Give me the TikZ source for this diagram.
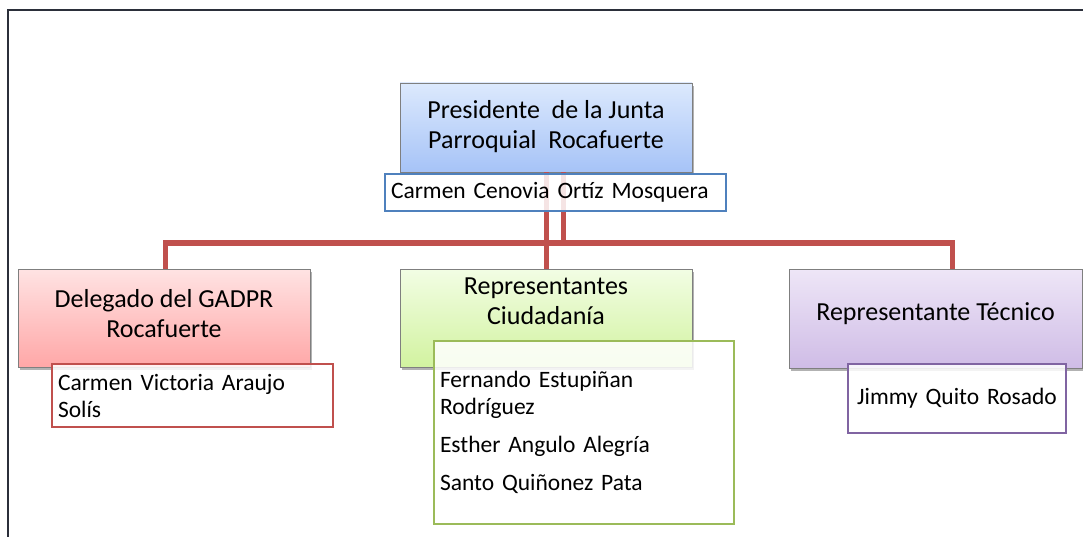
\documentclass[tikz,border=0pt]{standalone}
\usepackage{fontspec}
\setmainfont{Carlito}
\usetikzlibrary{shadows,calc}
\definecolor{blueTop}{HTML}{DCE9FD}
\definecolor{blueBot}{HTML}{A6C3F7}
\definecolor{redTop}{HTML}{FFE3E3}
\definecolor{redBot}{HTML}{FFA7A7}
\definecolor{greenTop}{HTML}{F2FDE4}
\definecolor{greenBot}{HTML}{D2F3A0}
\definecolor{purpleTop}{HTML}{EEE6F7}
\definecolor{purpleBot}{HTML}{CFBCE6}
\definecolor{boxline}{HTML}{7F7F7F}
\definecolor{nblue}{HTML}{4F81BD}
\definecolor{nred}{HTML}{C0504D}
\definecolor{ngreen}{HTML}{9BBB59}
\definecolor{npurple}{HTML}{8064A2}
\definecolor{connred}{HTML}{C0504D}
\definecolor{framecol}{HTML}{2B2F3A}
\tikzset{
  bigbox/.style={draw=boxline, line width=0.8pt, minimum width=292pt, minimum height=98pt, inner sep=0pt,
    drop shadow={shadow xshift=2pt, shadow yshift=-3pt, opacity=0.3, fill=black}},
  bigtext/.style={align=center, font=\fontsize{26}{30}\selectfont, inner sep=0pt},
  namebox/.style={fill=white, fill opacity=0.85, text opacity=1, line width=1.2pt, inner xsep=6pt, inner ysep=0pt,
    align=left, font=\fontsize{23.5}{27}\selectfont},
  conn/.style={draw=connred, line width=5pt},
  framestyle/.style={draw=framecol, line width=2pt}
}
\begin{document}
\begin{tikzpicture}[x=1pt,y=-1pt]
\useasboundingbox (0,0) rectangle (1083,537);
\draw[framestyle] (8,537) -- (8,10) -- (1084,10);
% big boxes
\node[bigbox, minimum height=89pt, top color=blueTop, bottom color=blueBot] (pres) at (546,127.5) {};
\node[bigbox, top color=redTop, bottom color=redBot] (del) at (164,318) {};
\node[bigbox, top color=greenTop, bottom color=greenBot] (cit) at (546,318) {};
\node[bigbox, minimum width=293pt, minimum height=99pt, top color=purpleTop, bottom color=purpleBot] (tec) at (935.5,318.5) {};
% texts of big boxes
\node[bigtext] (prest) at (546,126.5) {Presidente\ \ de la Junta\\Parroquial\ \ Rocafuerte};
\node[bigtext] (delt) at (164,313.5) {Delegado del GADPR\\Rocafuerte};
\node[bigtext] (citt) at (546,301.5) {Representantes\\Ciudadanía};
\node[bigtext] (tect) at (935.5,313.5) {Representante Técnico};
% connectors
\coordinate (bus) at (563,243);
\draw[conn] (pres.south) -- (cit.north);
\draw[conn] ([xshift=17pt]pres.south) -- (bus);
\draw[conn] (bus) -| ([xshift=1pt]del.north);
\draw[conn] (bus) -| ([xshift=16.5pt]tec.north);
% name boxes
\node[namebox, draw=nblue, text width=329pt, minimum height=37pt] (presn) at (555.5,192.5) {Carmen Cenovia Ortíz Mosquera};
\node[namebox, draw=nred, text width=269pt, minimum height=63pt] (deln) at (192.5,395.5) {Carmen Victoria Araujo\\Solís};
\node[namebox, draw=ngreen, text width=288pt, minimum height=183pt] (citn) at (584,432.5) {Fernando Estupiñan\\Rodríguez\\[11pt]Esther Angulo Alegría\\[11pt]Santo Quiñonez Pata};
\node[namebox, draw=npurple, align=center, text width=206pt, minimum height=69pt] (tecn) at (957,398.5) {Jimmy Quito Rosado};
\end{tikzpicture}
\end{document}
